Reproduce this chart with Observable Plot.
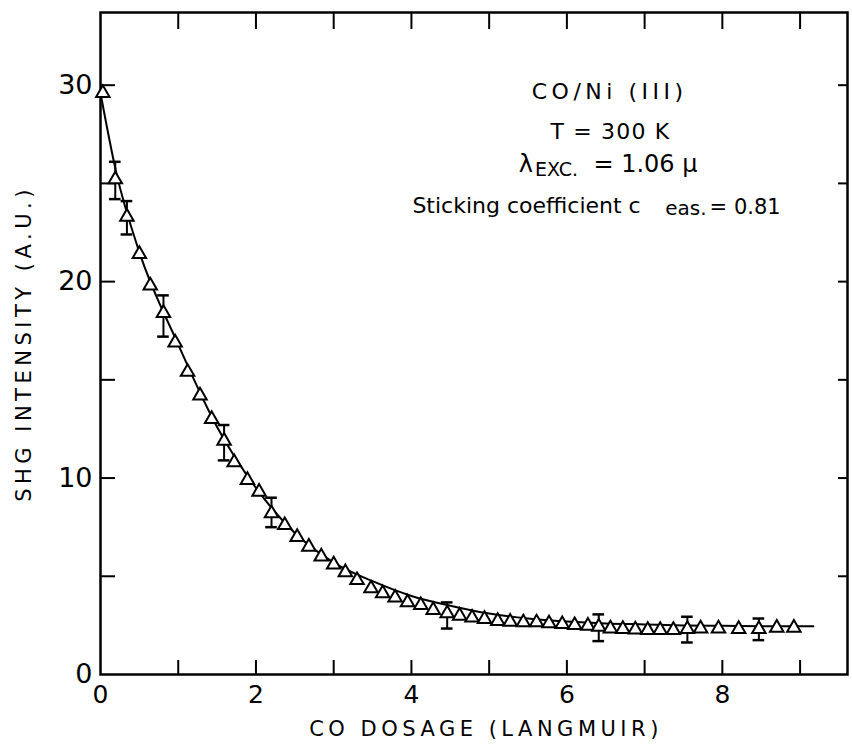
<!DOCTYPE html>
<html>
<head>
<meta charset="utf-8">
<script src="https://cdn.jsdelivr.net/npm/d3@7"></script>
<script src="https://cdn.jsdelivr.net/npm/@observablehq/plot@0.6"></script>
<style>
  html, body { margin: 0; padding: 0; background: #fff; }
  #chart svg { display: block; }
</style>
</head>
<body>
<div id="chart"></div>
<script>
// Measured data points (CO dosage in Langmuir, SHG intensity in A.U.)
const dosage = [0.03,0.19,0.34,0.50,0.64,0.81,0.96,1.12,1.28,1.43,1.59,1.72,1.89,2.04,2.20,2.37,2.53,2.68,2.84,3.00,3.15,3.30,3.48,3.63,3.79,3.95,4.12,4.28,4.46,4.62,4.78,4.94,5.11,5.27,5.44,5.61,5.77,5.94,6.10,6.27,6.41,6.56,6.72,6.88,7.04,7.20,7.37,7.55,7.72,7.95,8.21,8.47,8.70,8.92];
const intensity = [29.6,25.2,23.3,21.4,19.8,18.4,16.9,15.4,14.2,13.0,11.9,10.8,9.9,9.3,8.2,7.6,7.0,6.5,6.0,5.6,5.2,4.8,4.38,4.13,3.91,3.67,3.53,3.28,3.11,2.99,2.89,2.82,2.72,2.68,2.65,2.65,2.60,2.56,2.51,2.48,2.43,2.34,2.31,2.29,2.26,2.26,2.26,2.31,2.34,2.34,2.31,2.31,2.38,2.38];

// Error bars
const errDosage = [0.19,0.34,0.81,1.59,2.20,4.46,6.41,7.55,8.47];
const errLow    = [24.2,22.4,17.2,10.9,7.5,2.34,1.70,1.63,1.75];
const errHigh   = [26.1,24.1,19.3,12.7,9.0,3.67,3.06,2.94,2.85];

// Smooth fitted curve
const fitDosage = [0,0.2,0.5,1.0,1.5,2.0,2.5,3.0,3.5,4.0,4.5,5.0,5.5,6.0,6.5,7.0,7.5,8.0,8.5,9.17];
const fitIntensity = [29.6,25.6,21.5,16.8,12.6,9.5,7.2,5.7,4.75,4.0,3.5,3.1,2.85,2.7,2.6,2.55,2.5,2.48,2.46,2.45];

// Ticks
const xTicks = [1,2,3,4,5,6,7,8,9];
const xTickLabels = [0,2,4,6,8];
const yTicks = [5,10,15,20,25,30];
const yTickLabels = [0,10,20,30];

// Axis titles
const xTitle = "CO DOSAGE (LANGMUIR)";
const yTitle = "SHG INTENSITY (A.U.)";

// Annotation texts (position in data units, anchor, font size, letter spacing)
const noteTexts   = ["CO/Ni (III)", "T = 300 K", "λ", "EXC.", "= 1.06 μ", "Sticking coefficient c", "eas.", "= 0.81"];
const noteX       = [6.55, 6.56, 5.38, 5.59, 7.68, 6.95, 7.53, 8.75];
const noteY       = [29.67, 27.63, 25.95, 25.71, 25.95, 23.83, 23.70, 23.81];
const noteAnchor  = ["middle", "middle", "start", "start", "end", "end", "middle", "end"];
const noteSize    = [22, 22, 24, 19, 24, 22, 20, 21];
const noteSpacing = [4.5, 1.2, 0, 0, 0, 0, 0, 0];

const points = dosage.map((x, i) => ({x, y: intensity[i]}));
const errs = errDosage.map((x, i) => ({x, lo: errLow[i], hi: errHigh[i]}));
const fit = fitDosage.map((x, i) => ({x, y: fitIntensity[i]}));
const notes = noteTexts.map((t, i) => ({t, x: noteX[i], y: noteY[i], a: noteAnchor[i], s: noteSize[i]}));

const spacing = new Map(noteTexts.map((t, i) => [t, noteSpacing[i]]));
spacing.set(xTitle, 4.5);
spacing.set(yTitle, 4.5);

const font = "'DejaVu Sans', sans-serif";
const capHalf = 0.075;

const noteMarks = notes.map(n => Plot.text([n], {
  x: "x", y: "y", text: "t", fontSize: n.s, fill: "#000", textAnchor: n.a
}));

const chart = Plot.plot({
  width: 852,
  height: 750,
  marginLeft: 100,
  marginRight: 5,
  marginTop: 12,
  marginBottom: 76,
  x: {domain: [0, 9.61]},
  y: {domain: [0, 33.7]},
  style: {fontFamily: font, background: "#fff", color: "#000"},
  marks: [
    Plot.frame({stroke: "#000", strokeWidth: 2.5}),
    // inward ticks
    Plot.tickX(xTicks, {x: d => d, insetTop: 648, stroke: "#000", strokeWidth: 2}),
    Plot.tickX(xTicks, {x: d => d, insetBottom: 645, stroke: "#000", strokeWidth: 2}),
    Plot.tickY(yTicks, {y: d => d, insetRight: 732, stroke: "#000", strokeWidth: 2}),
    Plot.tickY(yTicks, {y: d => d, insetLeft: 738, stroke: "#000", strokeWidth: 2}),
    Plot.axisX(xTickLabels, {tickSize: 0, tickPadding: 11, fontSize: 25, label: null, tickFormat: d => String(d)}),
    Plot.axisY(yTickLabels, {tickSize: 0, tickPadding: 8, fontSize: 27, label: null, tickFormat: d => String(d)}),
    // axis titles
    Plot.text([xTitle], {frameAnchor: "bottom", textAnchor: "middle", dx: 12, dy: 61, fontSize: 21, text: d => d, fill: "#000"}),
    Plot.text([yTitle], {frameAnchor: "left", textAnchor: "middle", dx: -76, dy: 0, rotate: -90, fontSize: 21, text: d => d, fill: "#000"}),
    // fitted curve
    Plot.line(fit, {x: "x", y: "y", curve: "monotone-x", stroke: "#000", strokeWidth: 2}),
    // error bars
    Plot.ruleX(errs, {x: "x", y1: "lo", y2: "hi", stroke: "#000", strokeWidth: 2}),
    Plot.ruleY(errs, {y: "lo", x1: d => d.x - capHalf, x2: d => d.x + capHalf, stroke: "#000", strokeWidth: 2.5}),
    Plot.ruleY(errs, {y: "hi", x1: d => d.x - capHalf, x2: d => d.x + capHalf, stroke: "#000", strokeWidth: 2.5}),
    // data triangles
    Plot.dot(points, {x: "x", y: "y", symbol: "triangle", r: 5, fill: "#fff", stroke: "#000", strokeWidth: 2}),
    ...noteMarks
  ]
});

// letter spacing of the hand-lettered labels
d3.select(chart).selectAll("text").each(function() {
  const s = spacing.get(this.textContent);
  if (s) this.setAttribute("letter-spacing", s);
});

document.getElementById("chart").appendChild(chart);
</script>
</body>
</html>
